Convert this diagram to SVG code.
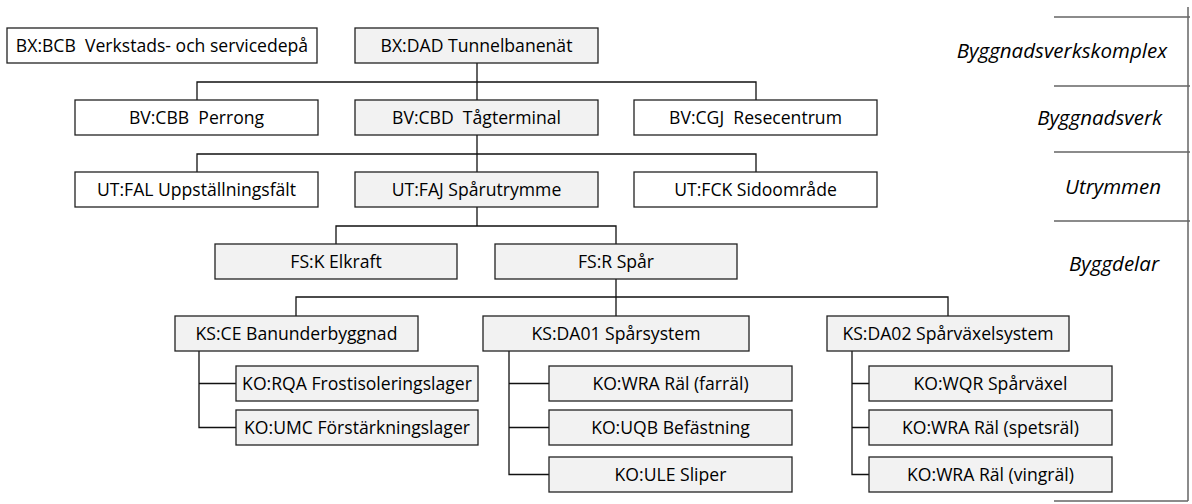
<svg xmlns="http://www.w3.org/2000/svg" width="1192" height="504" viewBox="0 0 1192 504">
  <style>
    .box { stroke: #222; stroke-width: 1.3; }
    .w { fill: #ffffff; }
    .g { fill: #f2f2f2; }
    .t { font-family: "Open Sans", "Liberation Sans", sans-serif; font-size: 17.6px; fill: #000; text-anchor: middle; white-space: pre; }
    .lvl { font-family: "Open Sans", "Liberation Sans", sans-serif; font-style: italic; font-size: 20.5px; fill: #000; text-anchor: end; }
    .conn { fill: none; stroke: #111; stroke-width: 1.3; }
    .rule { fill: none; stroke: #666; stroke-width: 1.5; }
  </style>
  <rect width="1192" height="504" fill="#ffffff"/>

  <!-- level scale on the right -->
  <g id="levels">
    <path class="rule" d="M1188 7V501 M1054 17H1190 M1054 86H1190 M1054 152H1190 M1054 221H1190 M1054 501H1188"/>
    <text class="lvl" x="1167" y="58">Byggnadsverkskomplex</text>
    <text class="lvl" x="1162" y="125">Byggnadsverk</text>
    <text class="lvl" x="1161" y="194">Utrymmen</text>
    <text class="lvl" x="1159" y="271">Byggdelar</text>
  </g>

  <!-- connectors -->
  <g id="connectors">
    <path class="conn" d="M477 63V100 M197 100V82H756V100"/>
    <path class="conn" d="M477 135V172 M197 172V154H756V172"/>
    <path class="conn" d="M477 207V226 M336 244V226H616V244"/>
    <path class="conn" d="M616 279V316 M296 316V297H948V316"/>
    <path class="conn" d="M199 351V427.5H236 M199 383.5H236"/>
    <path class="conn" d="M509 351V474.5H549 M509 383.5H549 M509 427.5H549"/>
    <path class="conn" d="M852 351V474.5H869 M852 383.5H869 M852 427.5H869"/>
  </g>

  <!-- nodes -->
  <g id="bx_bcb"><rect class="box w" x="7" y="28" width="310" height="35"/><text class="t" x="162" y="51.5" xml:space="preserve">BX:BCB  Verkstads- och servicedepå</text></g>
  <g id="bx_dad"><rect class="box g" x="355" y="28" width="243" height="35"/><text class="t" x="476.5" y="51.5">BX:DAD Tunnelbanenät</text></g>

  <g id="bv_cbb"><rect class="box w" x="75" y="100" width="243" height="35"/><text class="t" x="196.5" y="123.5" xml:space="preserve">BV:CBB  Perrong</text></g>
  <g id="bv_cbd"><rect class="box g" x="355" y="100" width="243" height="35"/><text class="t" x="476.5" y="123.5" xml:space="preserve">BV:CBD  Tågterminal</text></g>
  <g id="bv_cgj"><rect class="box w" x="634" y="100" width="243" height="35"/><text class="t" x="755.5" y="123.5" xml:space="preserve">BV:CGJ  Resecentrum</text></g>

  <g id="ut_fal"><rect class="box w" x="75" y="172" width="243" height="35"/><text class="t" x="196.5" y="195.5">UT:FAL Uppställningsfält</text></g>
  <g id="ut_faj"><rect class="box g" x="355" y="172" width="243" height="35"/><text class="t" x="476.5" y="195.5">UT:FAJ Spårutrymme</text></g>
  <g id="ut_fck"><rect class="box w" x="634" y="172" width="243" height="35"/><text class="t" x="755.5" y="195.5">UT:FCK Sidoområde</text></g>

  <g id="fs_k"><rect class="box g" x="215" y="244" width="242" height="35"/><text class="t" x="336" y="267.5">FS:K Elkraft</text></g>
  <g id="fs_r"><rect class="box g" x="495" y="244" width="242" height="35"/><text class="t" x="616" y="267.5">FS:R Spår</text></g>

  <g id="ks_ce"><rect class="box g" x="175" y="316" width="243" height="35"/><text class="t" x="296.5" y="339.5">KS:CE Banunderbyggnad</text></g>
  <g id="ks_da01"><rect class="box g" x="483" y="316" width="266" height="35"/><text class="t" x="616" y="339.5">KS:DA01 Spårsystem</text></g>
  <g id="ks_da02"><rect class="box g" x="827" y="316" width="242" height="35"/><text class="t" x="948" y="339.5">KS:DA02 Spårväxelsystem</text></g>

  <g id="ko_rqa"><rect class="box g" x="236" y="366" width="242" height="35"/><text class="t" x="357" y="389.5">KO:RQA Frostisoleringslager</text></g>
  <g id="ko_umc"><rect class="box g" x="236" y="410" width="242" height="35"/><text class="t" x="357" y="433.5">KO:UMC Förstärkningslager</text></g>

  <g id="ko_wra_farral"><rect class="box g" x="549" y="366" width="243" height="35"/><text class="t" x="670.5" y="389.5">KO:WRA Räl (farräl)</text></g>
  <g id="ko_uqb"><rect class="box g" x="549" y="410" width="243" height="35"/><text class="t" x="670.5" y="433.5">KO:UQB Befästning</text></g>
  <g id="ko_ule"><rect class="box g" x="549" y="457" width="243" height="35"/><text class="t" x="670.5" y="480.5">KO:ULE Sliper</text></g>

  <g id="ko_wqr"><rect class="box g" x="869" y="366" width="243" height="35"/><text class="t" x="990.5" y="389.5">KO:WQR Spårväxel</text></g>
  <g id="ko_wra_spetsral"><rect class="box g" x="869" y="410" width="243" height="35"/><text class="t" x="990.5" y="433.5">KO:WRA Räl (spetsräl)</text></g>
  <g id="ko_wra_vingral"><rect class="box g" x="869" y="457" width="243" height="35"/><text class="t" x="990.5" y="480.5">KO:WRA Räl (vingräl)</text></g>
</svg>
